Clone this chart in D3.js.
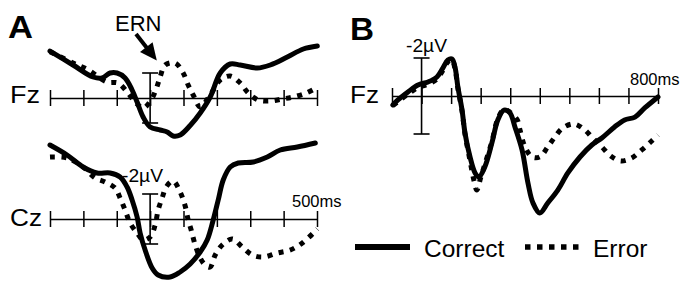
<!DOCTYPE html>
<html>
<head>
<meta charset="utf-8">
<script src="https://cdn.jsdelivr.net/npm/d3@7"></script>
<style>
html,body{margin:0;padding:0;background:#fff;}
svg{display:block;font-family:"Liberation Sans",Arial,sans-serif;}
</style>
</head>
<body>
<svg id="chart" width="683" height="281"></svg>
<script>
// ---- Data (time in ms, amplitude in µV; negative plotted up) ----
const ticksA = [-300,-200,-100,0,100,200,300,400,500];
const ticksB = [-100,0,100,200,300,400,500,600,700,800];

const fzA_correct_t = [-300,-231,-171,-144,-120,-99,-75,-54,-39,-21,0,30,51,69,90,120,150,180,210,240,270,321,360,411,459,501];
const fzA_correct_v = [-3.75,-2.64,-1.68,-1.6,-2.0,-2.0,-1.6,-0.64,0.32,1.52,2.32,2.56,2.72,3.04,2.96,2.2,1.2,-0.08,-2.0,-2.72,-2.64,-2.4,-2.64,-3.28,-3.92,-4.16];
const fzA_error_t = [-300,-231,-189,-129,-96,-69,-45,-21,3,18,30,45,75,99,114,129,150,180,210,240,270,294,324,360,396,429,468,498];
const fzA_error_v = [-3.7,-2.8,-2.3,-1.28,-1.2,-0.48,0.32,0.8,0.16,-0.72,-1.68,-2.64,-2.8,-2.0,-1.04,-0.24,0.72,-0.24,-1.44,-1.76,-1.2,-0.4,0.16,0.24,0.08,-0.08,-0.4,-0.8];

const czA_correct_t = [-300,-249,-201,-159,-120,-90,-69,-54,-39,-30,-15,6,24,60,90,120,150,171,189,204,219,240,264,309,351,390,441,495];
const czA_correct_v = [-5.92,-5.12,-4.16,-3.68,-3.68,-3.36,-2.56,-1.52,-0.16,1.12,2.48,3.92,4.48,4.64,4.24,3.6,2.64,1.68,0.08,-1.52,-3.12,-4.16,-4.48,-4.56,-4.96,-5.52,-5.76,-6.08];
const czA_error_t = [-300,-249,-201,-165,-135,-105,-90,-75,-60,-39,-21,0,15,24,36,48,69,90,105,114,123,135,150,165,180,195,216,246,276,306,339,381,420,456,501];
const czA_error_v = [-4.96,-4.88,-4.16,-3.28,-2.96,-2.48,-1.68,-0.72,0.32,1.12,1.68,1.44,0.48,-0.72,-1.68,-2.56,-3.04,-2.16,-1.04,0.08,0.88,2.08,3.12,3.68,3.84,2.88,2.08,1.6,2.24,2.88,3.04,2.72,2.48,1.92,0.8];

const fzB_correct_t = [-97,-80,-46,-12,22,52,72,89,103,113,123,137,147,164,181,194,214,238,258,279,299,316,340,360,377,400,427,461,495,536,576,610,653,687,722,755,800];
const fzB_correct_v = [0.47,0.21,-0.21,-0.58,-0.74,-1.0,-1.47,-1.89,-1.95,-1.53,-0.47,0.74,1.95,3.21,4.05,4.26,3.74,2.47,1.26,0.74,0.89,1.63,2.84,4.58,5.63,6.16,5.63,4.95,4.05,3.21,2.58,2.21,1.63,1.26,1.11,0.63,0.05];
const fzB_error_t = [-97,-80,-46,-12,22,52,72,89,103,113,123,137,147,164,178,187,200,214,238,258,279,299,324,333,350,374,400,427,451,478,515,549,579,610,640,674,711,745,775,800];
const fzB_error_v = [0.5,0.3,-0.1,-0.45,-0.62,-0.9,-1.35,-1.8,-1.9,-1.45,-0.4,0.8,2.0,3.4,4.5,4.95,4.3,3.6,2.4,1.2,0.7,0.85,1.26,1.79,2.68,3.21,3.21,2.68,2.16,1.68,1.47,1.74,2.21,2.68,3.16,3.42,3.26,2.84,2.42,2.05];

const legendLabels = ["Correct","Error"];

// ---- Drawing ----
const svg = d3.select("#chart");
const FONT = '"Liberation Sans",Arial,sans-serif';

const xA = d3.scaleLinear().domain([-300,500]).range([50,317]);
const xB = d3.scaleLinear().domain([-100,800]).range([392,658]);
const yFzA = d3.scaleLinear().domain([-2,2]).range([73,123]);
const yCzA = d3.scaleLinear().domain([-2,2]).range([194,244]);
const yB = d3.scaleLinear().domain([-2,2]).range([58,134]);

function zip(t,v){ return t.map((d,i)=>({t:d,v:v[i]})); }

function drawAxis(x, y, ticks){
  const g = svg.append("g").attr("transform",`translate(0,${y(0)})`)
    .call(d3.axisBottom(x).tickValues(ticks).tickSize(8).tickSizeOuter(0).tickFormat(""));
  g.select(".domain").attr("stroke","#000").attr("stroke-width",1.5);
  g.selectAll(".tick line").attr("y1",-8).attr("y2",8).attr("stroke","#000").attr("stroke-width",1.5);
}

function drawScaleBar(x, y, hw){
  const g = svg.append("g").attr("stroke","#000").attr("stroke-width",1.6);
  g.append("line").attr("x1",x(0)).attr("x2",x(0)).attr("y1",y(-2)).attr("y2",y(2));
  g.append("line").attr("x1",x(0)-hw).attr("x2",x(0)+hw).attr("y1",y(-2)).attr("y2",y(-2));
  g.append("line").attr("x1",x(0)-hw).attr("x2",x(0)+hw).attr("y1",y(2)).attr("y2",y(2));
}

function drawWave(x, y, t, v, dotted){
  const line = d3.line().x(d=>x(d.t)).y(d=>y(d.v)).curve(d3.curveCatmullRom.alpha(0.5));
  const p = svg.append("path").datum(zip(t,v))
    .attr("d",line).attr("fill","none").attr("stroke","#000")
    .attr("stroke-width",5).attr("stroke-linejoin","round");
  if(dotted){ p.attr("stroke-dasharray","5,6.5").attr("stroke-linecap","butt"); }
  else { p.attr("stroke-linecap","round"); }
}

function text(x,y,s,size,weight,anchor){
  return svg.append("text").attr("x",x).attr("y",y).text(s)
    .attr("font-size",size).attr("font-weight",weight||"normal")
    .attr("font-family",FONT).attr("text-anchor",anchor||"start").attr("fill","#000");
}

// Panel A
drawAxis(xA, yFzA, ticksA);
drawAxis(xA, yCzA, ticksA);
drawScaleBar(xA, yFzA, 8);
drawScaleBar(xA, yCzA, 8);
drawWave(xA, yFzA, fzA_error_t, fzA_error_v, true);
drawWave(xA, yFzA, fzA_correct_t, fzA_correct_v, false);
drawWave(xA, yCzA, czA_error_t, czA_error_v, true);
drawWave(xA, yCzA, czA_correct_t, czA_correct_v, false);

// Panel B
drawAxis(xB, yB, ticksB);
drawScaleBar(xB, yB, 8);
drawWave(xB, yB, fzB_error_t, fzB_error_v, true);
drawWave(xB, yB, fzB_correct_t, fzB_correct_v, false);

// Labels
text(8,38,"A",31,"bold").attr("textLength",25).attr("lengthAdjust","spacingAndGlyphs");
text(350,40,"B",31,"bold").attr("textLength",24).attr("lengthAdjust","spacingAndGlyphs");
text(10,103,"Fz",24).attr("textLength",30).attr("lengthAdjust","spacingAndGlyphs");
text(10,226,"Cz",24).attr("textLength",32).attr("lengthAdjust","spacingAndGlyphs");
text(350,103,"Fz",24).attr("textLength",29).attr("lengthAdjust","spacingAndGlyphs");
text(115,31,"ERN",22);
text(122,182,"-2\u00B5V",18).attr("textLength",41).attr("lengthAdjust","spacingAndGlyphs");
text(406,52,"-2\u00B5V",18).attr("textLength",41).attr("lengthAdjust","spacingAndGlyphs");
text(292,207,"500ms",16.5);
text(630,85,"800ms",16.5);

// ERN arrow pointing at the Error peak
(function(){
  const tip = [xA(20), yFzA(-3.0)];
  const start = [136, 34];
  const dx = tip[0]-start[0], dy = tip[1]-start[1];
  const L = Math.hypot(dx,dy), ux = dx/L, uy = dy/L;
  const hl = 17, hw = 8;
  const base = [tip[0]-ux*hl, tip[1]-uy*hl];
  svg.append("line").attr("x1",start[0]).attr("y1",start[1]).attr("x2",base[0]+ux*2).attr("y2",base[1]+uy*2)
    .attr("stroke","#000").attr("stroke-width",4);
  svg.append("path").attr("d",`M${tip[0]},${tip[1]}L${base[0]+uy*hw},${base[1]-ux*hw}L${base[0]-uy*hw},${base[1]+ux*hw}Z`)
    .attr("fill","#000");
})();

// Legend
const lg = svg.append("g");
lg.append("line").attr("x1",355).attr("x2",410).attr("y1",247).attr("y2",247)
  .attr("stroke","#000").attr("stroke-width",6);
text(424,257,legendLabels[0],24.5);
lg.append("line").attr("x1",525).attr("x2",580).attr("y1",247).attr("y2",247)
  .attr("stroke","#000").attr("stroke-width",5.5).attr("stroke-dasharray","5.5,6.5");
text(593,257,legendLabels[1],24.5);
</script>
</body>
</html>
